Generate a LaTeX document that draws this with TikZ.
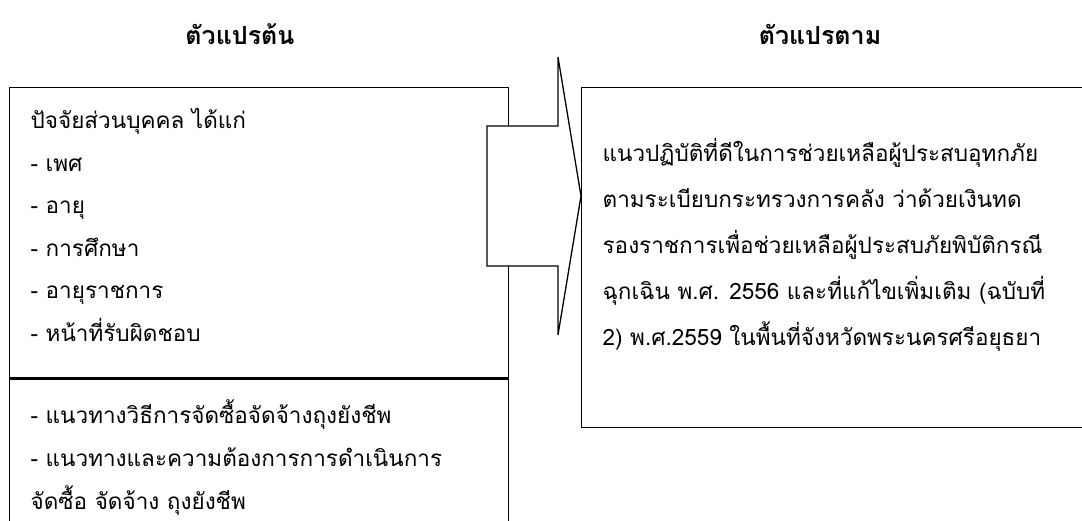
\documentclass[tikz,border=0pt]{standalone}
\usepackage{fontspec}
\setmainfont[Script=Thai]{Loma}
\usetikzlibrary{positioning,calc}

\begin{document}
\begin{tikzpicture}[x=1pt,y=1pt,line width=1.3pt,font=\fontsize{22.5}{42.5}\selectfont]
\tikzset{%
  box/.style = {%
    draw,
    fill = white,
    inner sep = 0pt,
    anchor = north west},
  txt/.style = {%
    align = left,
    inner sep = 0pt,
    anchor = north west},
  title/.style = {%
    font = \fontsize{25}{28}\selectfont\bfseries}
}
  \useasboundingbox (0,0) rectangle (1082,-521);
  \clip (0,0) rectangle (1082,-521);

  \node[title] (indep) at (240,-34) {ตัวแปรต้น};
  \node[title] (dep) at (820,-34) {ตัวแปรตาม};

  \node[box, minimum width=499pt, minimum height=290pt] (personal) at (9,-87) {};
  \node[box, minimum width=499pt, minimum height=170pt] (procure) at (personal.south west) {};

  \node[txt] (personaltxt) at ($(personal.north west)+(21,-21)$)
    {ปัจจัยส่วนบุคคล ได้แก่\\- เพศ\\- อายุ\\- การศึกษา\\- อายุราชการ\\- หน้าที่รับผิดชอบ};
  \node[txt, font=\fontsize{22.5}{43}\selectfont] (procuretxt) at ($(procure.north west)+(21,-21)$)
    {- แนวทางวิธีการจัดซื้อจัดจ้างถุงยังชีพ\\- แนวทางและความต้องการการดำเนินการ\\จัดซื้อ จัดจ้าง ถุงยังชีพ};

  % big arrow over the left boxes
  \coordinate (tip) at (581,-196);
  \draw[fill=white] (tip) ++(-94,70) -- ++(71,0) -- ++(0,69) -- (tip)
    -- ++(-23,-139) -- ++(0,69) -- ++(-71,0) -- cycle;

  \node[box, minimum width=510pt, minimum height=340pt] (outcome) at (581,-87) {};
  \node[txt, font=\fontsize{22.5}{46}\selectfont] (outcometxt) at ($(outcome.north west)+(21,-51)$)
    {แนวปฏิบัติที่ดีในการช่วยเหลือผู้ประสบอุทกภัย\\ตามระเบียบกระทรวงการคลัง ว่าด้วยเงินทด\\รองราชการเพื่อช่วยเหลือผู้ประสบภัยพิบัติกรณี\\ฉุกเฉิน พ.ศ. 2556 และที่แก้ไขเพิ่มเติม (ฉบับที่\\2) พ.ศ.2559 ในพื้นที่จังหวัดพระนครศรีอยุธยา};
\end{tikzpicture}
\end{document}
